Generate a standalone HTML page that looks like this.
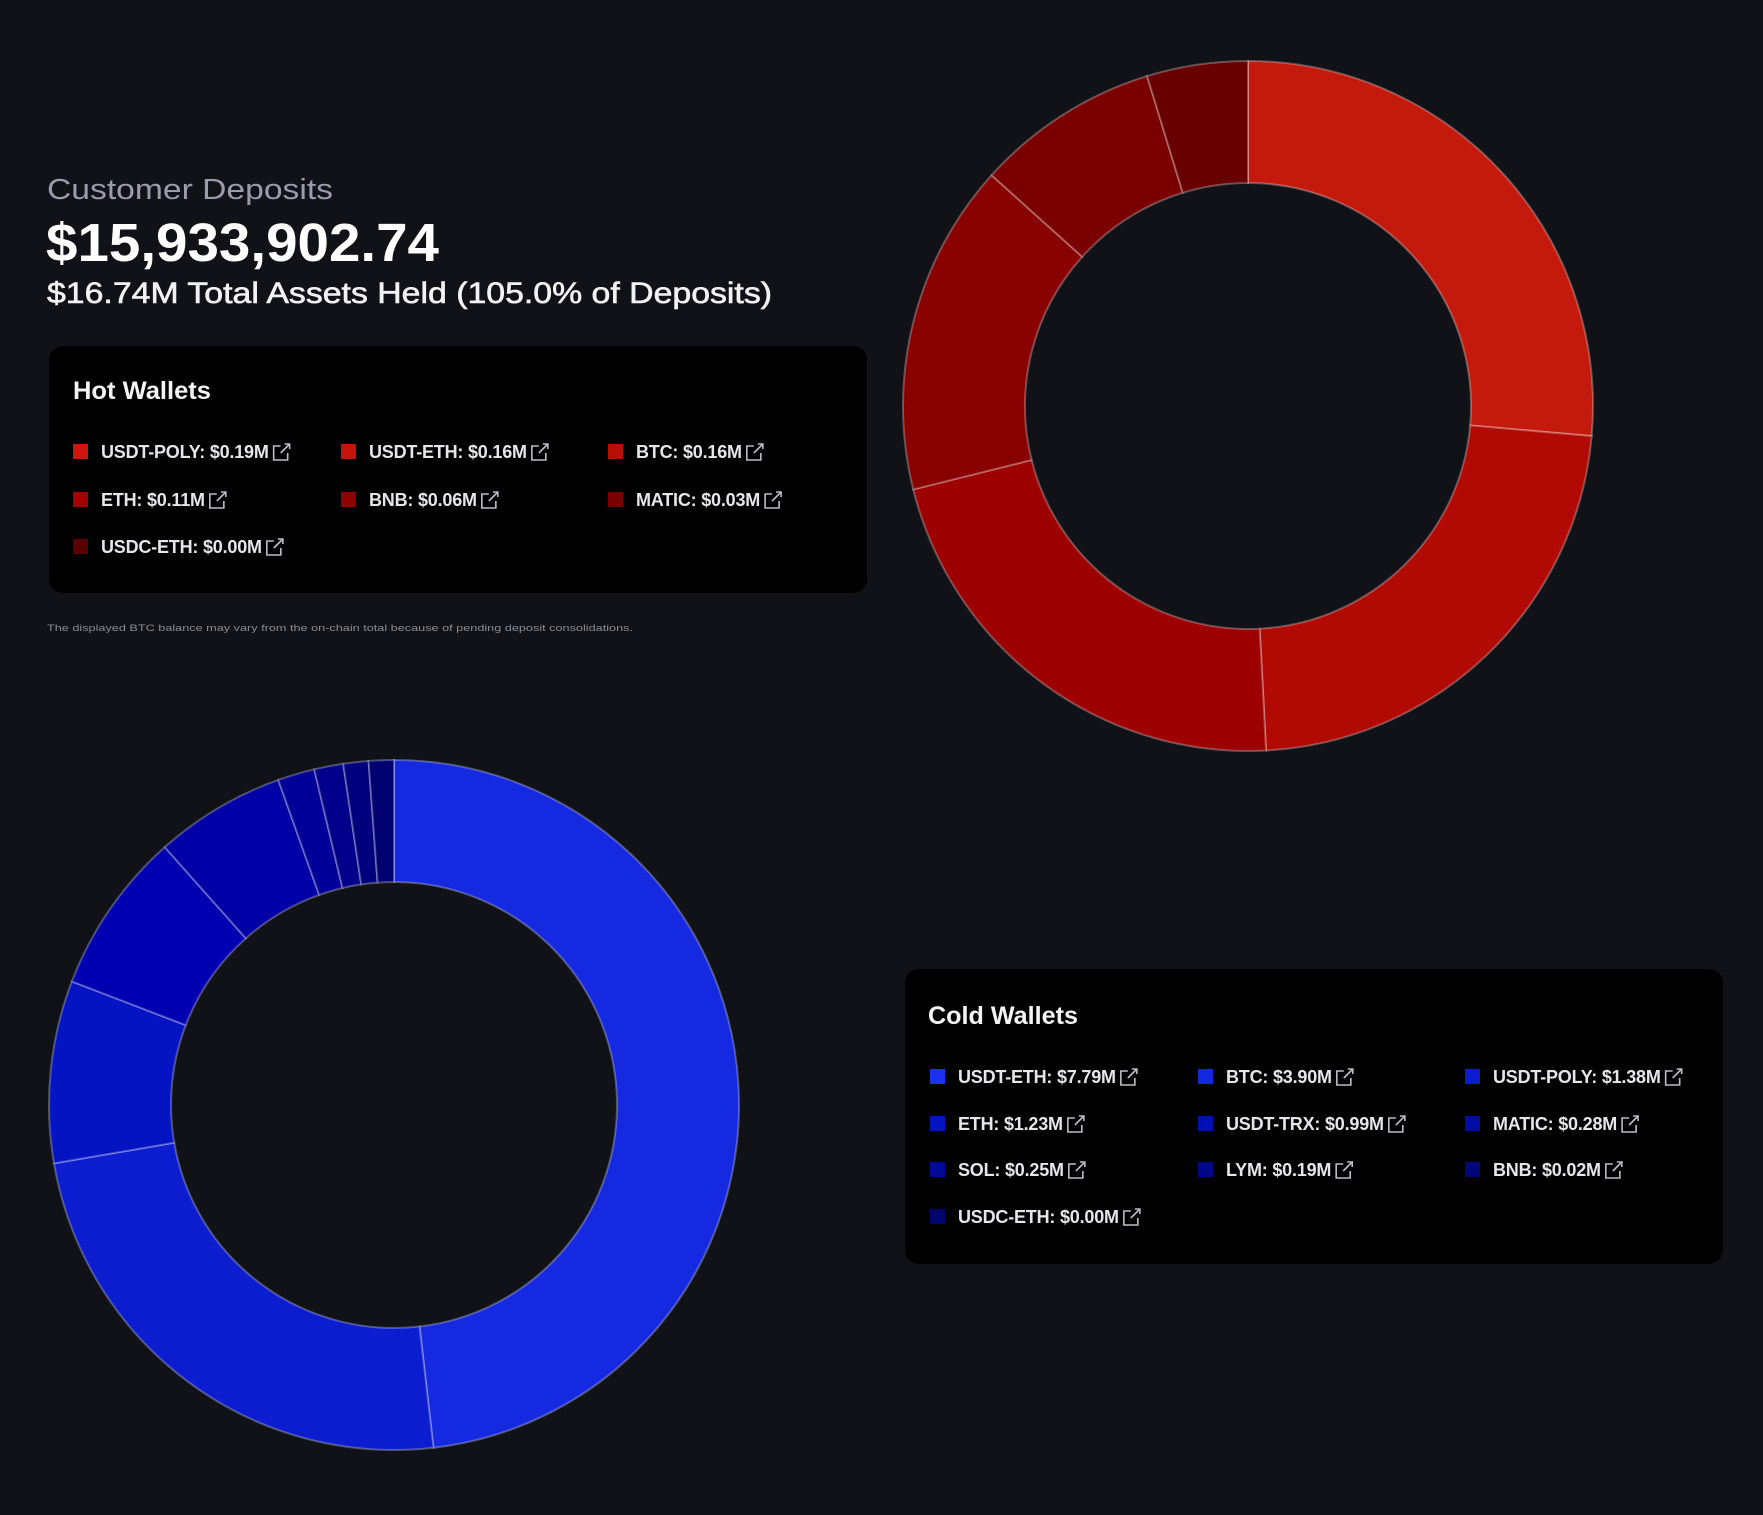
<!DOCTYPE html>
<html><head><meta charset="utf-8"><style>
html,body{margin:0;padding:0;background:#111217;}
svg{display:block;font-family:"Liberation Sans",sans-serif;}
</style></head><body>
<svg id="s" width="1763" height="1515" viewBox="0 0 1763 1515" xmlns="http://www.w3.org/2000/svg">
<rect width="1763" height="1515" fill="#111217"/>
<text x="47" y="199" font-size="29" fill="#9a9cae" textLength="286" lengthAdjust="spacingAndGlyphs">Customer Deposits</text>
<text x="46" y="261" font-size="54" font-weight="700" fill="#ffffff" textLength="393" lengthAdjust="spacingAndGlyphs">$15,933,902.74</text>
<text x="47" y="303" font-size="30" fill="#f2f2f4" stroke="#f2f2f4" stroke-width="0.6" textLength="725" lengthAdjust="spacingAndGlyphs">$16.74M Total Assets Held (105.0% of Deposits)</text>
<rect x="49" y="346" width="818" height="247" rx="14" fill="#000"/>
<text x="73" y="399" font-size="25" font-weight="700" fill="#f4f4f4" textLength="138" lengthAdjust="spacingAndGlyphs">Hot Wallets</text>
<text x="47" y="631" font-size="9.5" fill="#8a8a93" textLength="586" lengthAdjust="spacingAndGlyphs">The displayed BTC balance may vary from the on-chain total because of pending deposit consolidations.</text>
<rect x="905" y="969" width="818" height="295" rx="14" fill="#000"/>
<text x="928" y="1024" font-size="25" font-weight="700" fill="#f4f4f4" textLength="150" lengthAdjust="spacingAndGlyphs">Cold Wallets</text>
<g id="donuts"></g>
<g id="legends"></g>
</svg>
<script>
var NS="http://www.w3.org/2000/svg";
function el(t,a,p){var e=document.createElementNS(NS,t);for(var k in a)e.setAttribute(k,a[k]);(p||document.getElementById('s')).appendChild(e);return e;}
function donut(cx,cy,R,r,vals,cols){
 var g=document.getElementById('donuts');var sum=vals.reduce(function(a,b){return a+b},0);var a0=0;
 for(var i=0;i<vals.length;i++){
  var a1=a0+vals[i]/sum*Math.PI*2;
  function P(rad,a){return [cx+rad*Math.sin(a),cy-rad*Math.cos(a)];}
  var p1=P(R,a0),p2=P(R,a1),p3=P(r,a1),p4=P(r,a0);var lg=(a1-a0)>Math.PI?1:0;
  el('path',{d:'M'+p1+' A'+R+' '+R+' 0 '+lg+' 1 '+p2+' L'+p3+' A'+r+' '+r+' 0 '+lg+' 0 '+p4+' Z',fill:cols[i],stroke:'rgba(255,255,255,0.28)','stroke-width':'2'},g);
  a0=a1;
 }
}
donut(1248,406,345,223,[95,82,79,56,31,17],['#c41a0e','#b10a04','#9c0000','#880000','#7a0000','#680000']);
donut(394,1105,345,223,[7.79,3.90,1.38,1.23,0.99,0.28,0.22,0.19,0.19],['#1529e0','#0b1dcf','#0414c2','#0000b2','#0000a6','#000098','#00008a','#00007e','#000070']);
function legend(items,cols,xs,ys){
 var g=document.getElementById('legends');
 items.forEach(function(it,i){
  var x=xs[i%3],y=ys[Math.floor(i/3)];
  el('rect',{x:x,y:y-8,width:15,height:15,fill:cols[i]},g);
  var t=el('text',{x:x+28,y:y+6,'font-size':18,'font-weight':700,fill:'#e6e6e8','letter-spacing':'-0.2'},g);
  t.textContent=it;
  var w=t.getComputedTextLength();var ix=x+28+w+5,iy=y-8;
  el('path',{d:'M'+(ix+7)+' '+(iy+2)+' H'+ix+' V'+(iy+16)+' H'+(ix+14)+' V'+(iy+9)+' M'+(ix+7)+' '+(iy+9)+' L'+(ix+16)+' '+iy+' M'+(ix+11)+' '+iy+' H'+(ix+16)+' V'+(iy+5),fill:'none',stroke:'#bdbdc2','stroke-width':'1.6'},g);
 });
}
legend(['USDT-POLY: $0.19M','USDT-ETH: $0.16M','BTC: $0.16M','ETH: $0.11M','BNB: $0.06M','MATIC: $0.03M','USDC-ETH: $0.00M'],
 ['#d0160c','#c4140a','#b80e06','#a50000','#900000','#7a0000','#5a0000'],[73,341,608],[452,500,547]);
legend(['USDT-ETH: $7.79M','BTC: $3.90M','USDT-POLY: $1.38M','ETH: $1.23M','USDT-TRX: $0.99M','MATIC: $0.28M','SOL: $0.25M','LYM: $0.19M','BNB: $0.02M','USDC-ETH: $0.00M'],
 ['#1a32f0','#1228e0','#0a1cd0','#0414c0','#0010b4','#000ca6','#000a98','#00088a','#00067c','#00046c'],[930,1198,1465],[1077,1124,1170,1217]);
</script>
</body></html>
